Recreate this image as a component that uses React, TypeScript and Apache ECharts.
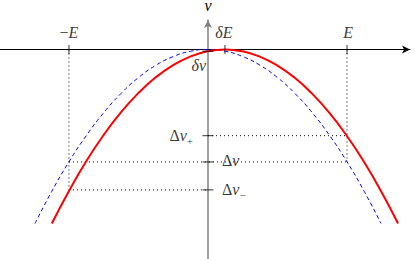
import React, { useEffect, useRef } from 'react';
import * as echarts from 'echarts';

// ---- data (units: E = 1) ----
const NEG_E = -1;
const POS_E = 1;
const DELTA_E = 0.122;
const DELTA_NU = -0.012;
const DNU_PLUS = -0.62;
const DNU = -0.809;
const DNU_MINUS = -1.01;

// dashed blue parabola (centred on nu axis)
const blueCurve: [number, number][] = [
  [-1.245, -1.252], [-1.125, -1.023], [-1.0, -0.808], [-0.875, -0.619], [-0.75, -0.455],
  [-0.625, -0.316], [-0.5, -0.202], [-0.375, -0.114], [-0.25, -0.051], [-0.125, -0.013],
  [0, 0],
  [0.125, -0.013], [0.25, -0.051], [0.375, -0.114], [0.5, -0.202], [0.625, -0.316],
  [0.75, -0.455], [0.875, -0.619], [1.0, -0.808], [1.125, -1.023], [1.245, -1.252],
];

// solid red parabola (apex at deltaE)
const redCurve: [number, number][] = [
  [-1.123, -1.252], [-1.003, -1.023], [-0.878, -0.808], [-0.753, -0.619], [-0.628, -0.455],
  [-0.503, -0.316], [-0.378, -0.202], [-0.253, -0.114], [-0.128, -0.051], [-0.003, -0.013],
  [0.122, 0],
  [0.247, -0.013], [0.372, -0.051], [0.497, -0.114], [0.622, -0.202], [0.747, -0.316],
  [0.872, -0.455], [0.997, -0.619], [1.122, -0.808], [1.247, -1.023], [1.367, -1.252],
];

const xTickValues = [NEG_E, DELTA_E, POS_E];
const xTickLabels = ['{r|−}{i|E}', '{i|δE}', '{i|E}'];

const yTickValues = [DELTA_NU, DNU_PLUS, DNU, DNU_MINUS];
const yTickLabels = ['{i|δν}', '{r|Δ}{i|ν}{s|+}', '{r|Δ}{i|ν}', '{r|Δ}{i|ν}{s|−}'];

// dotted guide segments
const guides: [number, number][][] = [
  [[NEG_E, 0], [NEG_E, DNU_MINUS]],
  [[NEG_E, DNU_MINUS], [0, DNU_MINUS]],
  [[NEG_E, DNU], [POS_E, DNU]],
  [[POS_E, 0], [POS_E, DNU]],
  [[0, DNU_PLUS], [POS_E, DNU_PLUS]],
];

const FONT = 'Liberation Serif, DejaVu Serif, serif';

export default function App() {
  const ref = useRef<HTMLDivElement>(null);
  useEffect(() => {
    document.body.style.margin = '0';
    const chart = echarts.init(ref.current!, null, { renderer: 'svg' });

    const rich: any = {
      r: { fontFamily: FONT, fontSize: 16, fontStyle: 'normal', color: '#000', lineHeight: 22 },
      i: { fontFamily: FONT, fontSize: 16, fontStyle: 'italic', color: '#000', lineHeight: 22 },
      s: { fontFamily: FONT, fontSize: 11, fontStyle: 'normal', color: '#000', lineHeight: 11, verticalAlign: 'bottom' },
    };

    const xLabelOffsets = [[0, -17], [-1, -17], [1, -17]];
    const yLabelLayout: any[] = [
      { offset: [-2, 14], align: 'right' },
      { offset: [-15, 0], align: 'right' },
      { offset: [14, -1], align: 'left' },
      { offset: [14, 0], align: 'left' },
    ];

    const option: any = {
      animation: false,
      textStyle: { fontFamily: FONT },
      grid: { left: 0, right: 5, top: 20, bottom: 0, containLabel: false, outerBoundsMode: 'none' },
      xAxis: {
        type: 'value',
        min: -1.496,
        max: 1.453,
        axisLine: {
          onZero: true,
          lineStyle: { color: '#000', width: 1 },
          symbol: ['none', 'arrow'],
          symbolSize: [6, 8],
        },
        axisTick: { show: false },
        axisLabel: { show: false },
        splitLine: { show: false },
      },
      yAxis: {
        type: 'value',
        min: -1.507,
        max: 0.212,
        name: 'ν',
        nameLocation: 'end',
        nameGap: 10,
        nameTextStyle: { fontFamily: FONT, fontSize: 16, fontStyle: 'italic', color: '#000', lineHeight: 10 },
        axisLine: {
          onZero: true,
          lineStyle: { color: '#808080', width: 1.5 },
          symbol: ['none', 'arrow'],
          symbolSize: [6, 8],
        },
        axisTick: { show: false },
        axisLabel: { show: false },
        splitLine: { show: false },
      },
      series: [
        ...guides.map((g) => ({
          type: 'line',
          data: g,
          showSymbol: false,
          silent: true,
          lineStyle: { color: '#000', width: 1, type: [1, 3] },
          z: 1,
        })),
        {
          type: 'line',
          data: blueCurve,
          smooth: true,
          showSymbol: false,
          silent: true,
          lineStyle: { color: '#0000ff', width: 1, type: [4, 3] },
          z: 3,
        },
        {
          type: 'line',
          data: redCurve,
          smooth: true,
          showSymbol: false,
          silent: true,
          lineStyle: { color: '#ff0000', width: 2 },
          z: 4,
        },
        {
          type: 'scatter',
          silent: true,
          clip: false,
          symbol: 'rect',
          symbolSize: [1, 9],
          itemStyle: { color: '#000' },
          z: 5,
          data: xTickValues.map((v, i) => ({
            value: [v, 0],
            label: {
              show: true,
              position: 'inside',
              offset: xLabelOffsets[i],
              formatter: xTickLabels[i],
              fontFamily: FONT,
              fontSize: 16,
              rich,
            },
          })),
        },
        {
          type: 'scatter',
          silent: true,
          clip: false,
          symbol: 'rect',
          symbolSize: [11, 1],
          itemStyle: { color: '#000' },
          z: 5,
          data: yTickValues.map((v, i) => ({
            value: [0, v],
            label: {
              show: true,
              position: 'inside',
              offset: yLabelLayout[i].offset,
              align: yLabelLayout[i].align,
              verticalAlign: 'middle',
              formatter: yTickLabels[i],
              fontFamily: FONT,
              fontSize: 16,
              rich,
            },
          })),
        },
      ],
    };
    chart.setOption(option);
    return () => chart.dispose();
  }, []);
  return <div ref={ref} style={{ width: 415, height: 259 }} />;
}
